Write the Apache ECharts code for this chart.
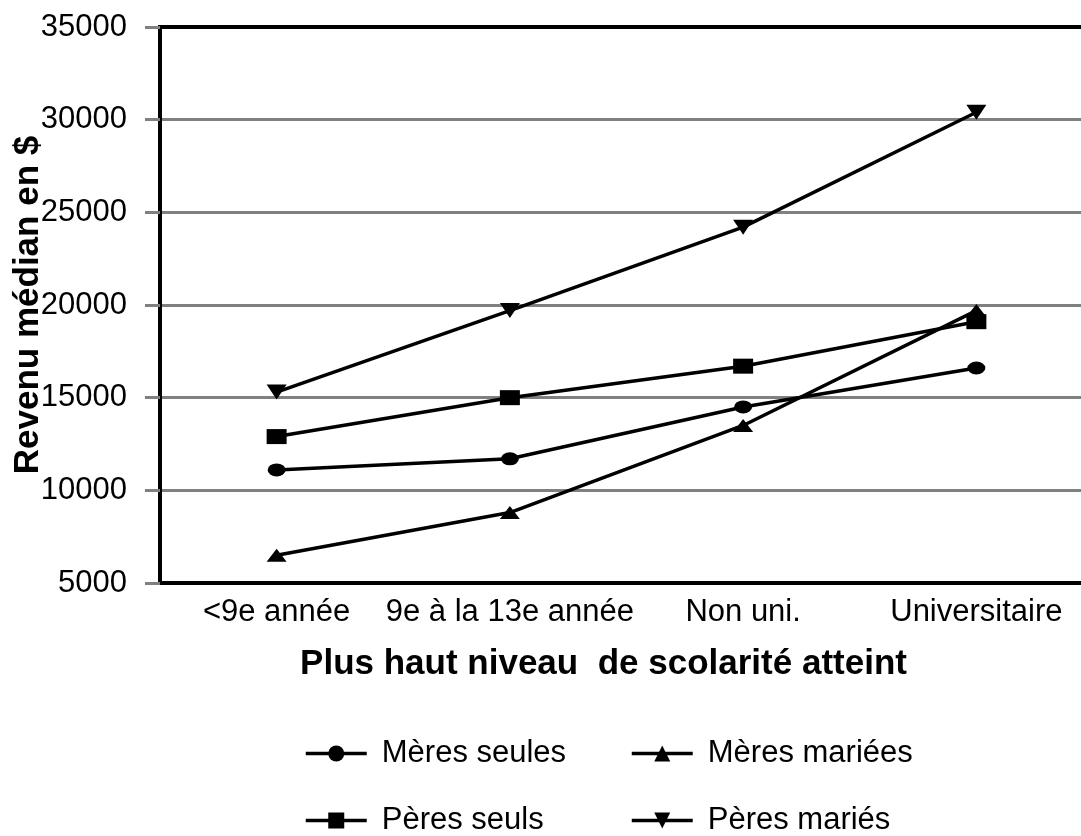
<!DOCTYPE html>
<html>
<head>
<meta charset="utf-8">
<script src="https://cdn.jsdelivr.net/npm/echarts@6/dist/echarts.min.js"></script>
<style>
  html, body { margin: 0; padding: 0; background: #fff; }
  #chart { width: 1081px; height: 836px; }
</style>
</head>
<body>
<div id="chart"></div>
<script>
// niveaux de scolarité
const categories = ["<9e année", "9e à la 13e année", "Non uni.", "Universitaire"];

// revenu médian en $
const meresSeules = [11100, 11700, 14500, 16600];
const meresMariees = [6500, 8800, 13500, 19700];
const peresSeuls = [12900, 15000, 16700, 19100];
const peresMaries = [15300, 19700, 24200, 30400];

const font = "'Liberation Sans', Arial, sans-serif";
const gray = "#808080";

const chart = echarts.init(document.getElementById("chart"));

function line(name, data, symbol, size) {
    return {
        name: name,
        type: "line",
        data: data,
        symbol: symbol,
        symbolSize: size,
        showAllSymbol: true,
        lineStyle: { color: "#000", width: 3.5 },
        itemStyle: { color: "#000", borderWidth: 0 },
        emphasis: { disabled: true },
        animation: false,
    };
}

// une légende par entrée, pour garder les colonnes alignées
function legendItem(name, left, top) {
    return {
        left: left,
        top: top,
        padding: 0,
        itemWidth: 61,
        itemHeight: 20,
        lineStyle: { width: 3.5 },
        textStyle: {
            fontFamily: font,
            fontSize: 31,
            color: "#000",
            padding: [0, 0, 0, 10],
        },
        data: [name],
    };
}

chart.setOption({
    grid: {
        left: 160,
        top: 27,
        width: 933,
        height: 556,
        outerBoundsMode: "none",
        containLabel: false,
        show: true,
        borderColor: "#000",
        borderWidth: 4,
    },
    legend: [
        legendItem("Mères seules", 304, 738),
        legendItem("Mères mariées", 630, 738),
        legendItem("Pères seuls", 304, 805),
        legendItem("Pères mariés", 630, 805),
    ],
    xAxis: {
        type: "category",
        data: categories,
        boundaryGap: true,
        name: "Plus haut niveau  de scolarité atteint",
        nameLocation: "middle",
        nameGap: 64,
        nameMoveOverlap: false,
        nameTextStyle: {
            fontFamily: font,
            fontSize: 35,
            fontWeight: "bold",
            color: "#000",
            padding: [0, 46, 0, 0],
        },
        axisLine: { lineStyle: { color: "#000", width: 4 } },
        axisTick: {
            alignWithLabel: true,
            length: 10,
            lineStyle: { color: gray, width: 3 },
        },
        axisLabel: {
            margin: 14,
            fontFamily: font,
            fontSize: 31,
            color: "#000",
            interval: 0,
        },
        splitLine: { show: false },
    },
    yAxis: {
        type: "value",
        min: 5000,
        max: 35000,
        interval: 5000,
        name: "Revenu médian en $",
        nameLocation: "middle",
        nameGap: 114,
        nameMoveOverlap: false,
        nameRotate: 90,
        nameTextStyle: {
            fontFamily: font,
            fontSize: 35,
            fontWeight: "bold",
            color: "#000",
        },
        axisLine: { show: true, lineStyle: { color: "#000", width: 4 } },
        axisTick: {
            show: true,
            length: 15,
            lineStyle: { color: gray, width: 3 },
        },
        axisLabel: {
            margin: 33,
            fontFamily: font,
            fontSize: 31,
            color: "#000",
            formatter: (v) => String(v),
        },
        splitLine: {
            show: true,
            showMinLine: false,
            showMaxLine: false,
            lineStyle: { color: gray, width: 3 },
        },
    },
    series: [
        line("Mères seules", meresSeules, "circle", [18, 13]),
        line("Mères mariées", meresMariees, "triangle", [20, 13]),
        line("Pères seuls", peresSeuls, "rect", [20, 15]),
        line("Pères mariés", peresMaries, "path://M0,0 L2,0 L1,1.5 Z", [20, 15]),
    ],
});
</script>
</body>
</html>
